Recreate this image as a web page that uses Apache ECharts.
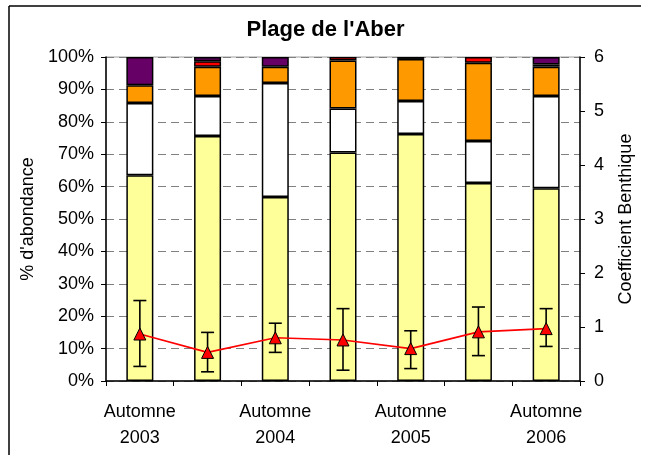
<!DOCTYPE html>
<html>
<head>
<meta charset="utf-8">
<script src="https://cdn.jsdelivr.net/npm/echarts@6/dist/echarts.min.js"></script>
<style>
  html, body { margin: 0; padding: 0; background: #fff; }
  #chart { width: 651px; height: 455px; }
</style>
</head>
<body>
<div id="chart"></div>
<script>
// categories (labels only every other one, as in the original)
var categories = ['Automne\n2003', '', 'Automne\n2004', '', 'Automne\n2005', '', 'Automne\n2006'];

// % abondance par groupe (empilé, bas -> haut)
var grpJaune  = [63.5, 75.6, 56.8, 70.5, 76.2, 61.1, 59.5];
var grpBlanc  = [22.3, 12.4, 35.2, 13.6, 10.2, 13.0, 28.5];
var grpOrange = [5.5, 9.0, 5.0, 14.8, 13.0, 24.1, 9.0];
var grpRouge  = [0, 1.7, 0, 1.1, 0, 1.8, 0];
var grpNoir   = [0, 0, 0, 0, 0.6, 0, 0.7];
var grpViolet = [8.7, 1.3, 3.0, 0, 0, 0, 2.3];

// coefficient benthique + barres d'erreur
var coefMoy  = [0.87, 0.53, 0.80, 0.76, 0.60, 0.91, 0.97];
var coefMin  = [0.27, 0.17, 0.53, 0.20, 0.23, 0.47, 0.64];
var coefMax  = [1.49, 0.90, 1.07, 1.34, 0.93, 1.37, 1.34];

var chart = echarts.init(document.getElementById('chart'));

function barSerie(name, data, color) {
  return {
    name: name,
    type: 'bar',
    stack: 'total',
    barWidth: 27,
    // pas de segment dessiné quand la part est nulle
    data: data.map(function (v) { return v === 0 ? '-' : v; }),
    itemStyle: { color: color, borderColor: '#000', borderWidth: 1.5 },
    emphasis: { disabled: true }
  };
}

var errData = coefMoy.map(function (v, i) { return [i, coefMin[i], coefMax[i]]; });

var option = {
  animation: false,
  textStyle: { fontFamily: 'Liberation Sans, Arial, sans-serif' },
  title: {
    text: "Plage de l'Aber",
    left: 'center',
    top: 14,
    textStyle: { fontSize: 22, fontWeight: 'bold', color: '#000' }
  },
  graphic: [
    { type: 'line', shape: { x1: 9, y1: 6, x2: 9, y2: 455 }, style: { stroke: '#000', lineWidth: 1.5 } },
    { type: 'line', shape: { x1: 9, y1: 6, x2: 641, y2: 6 }, style: { stroke: '#000', lineWidth: 1.5 } }
  ],
  grid: {
    left: 106,
    right: 71,
    top: 57,
    bottom: 74,
    show: true,
    borderColor: '#a0a0a0',
    borderWidth: 1
  },
  xAxis: {
    type: 'category',
    data: categories,
    axisLine: { lineStyle: { color: '#000', width: 1.5 } },
    axisTick: { show: true, length: 5, lineStyle: { color: '#000' } },
    axisLabel: {
      interval: 0,
      color: '#000',
      fontSize: 18,
      lineHeight: 26,
      margin: 18
    }
  },
  yAxis: [
    {
      type: 'value',
      min: 0,
      max: 100,
      interval: 10,
      name: "% d'abondance",
      nameLocation: 'middle',
      nameRotate: 90,
      nameGap: 62,
      nameTextStyle: { fontSize: 18, color: '#000' },
      axisLine: { show: true, lineStyle: { color: '#000', width: 1.5 } },
      axisTick: { show: true, length: 5, lineStyle: { color: '#000' } },
      axisLabel: { formatter: '{value}%', color: '#000', fontSize: 18, margin: 12 },
      splitLine: { show: true, lineStyle: { color: '#808080', type: [8, 5], width: 1 } }
    },
    {
      type: 'value',
      min: 0,
      max: 6,
      interval: 1,
      position: 'right',
      name: 'Coefficient Benthique',
      nameLocation: 'middle',
      nameRotate: 90,
      nameGap: 37,
      nameTextStyle: { fontSize: 18, color: '#000' },
      axisLine: { show: true, lineStyle: { color: '#000', width: 1.5 } },
      axisTick: { show: true, length: 5, lineStyle: { color: '#000' } },
      axisLabel: { color: '#000', fontSize: 18, margin: 14 },
      splitLine: { show: false }
    }
  ],
  series: [
    barSerie('jaune', grpJaune, '#FFFF99'),
    barSerie('blanc', grpBlanc, '#FFFFFF'),
    barSerie('orange', grpOrange, '#FF9900'),
    barSerie('rouge', grpRouge, '#FF0000'),
    barSerie('noir', grpNoir, '#000000'),
    barSerie('violet', grpViolet, '#660066'),
    {
      name: 'erreur',
      type: 'custom',
      yAxisIndex: 1,
      z: 3,
      data: errData,
      renderItem: function (params, api) {
        var lo = api.coord([api.value(0), api.value(1)]);
        var hi = api.coord([api.value(0), api.value(2)]);
        var w = 6.5;
        var st = { stroke: '#000', lineWidth: 1.6 };
        return {
          type: 'group',
          children: [
            { type: 'line', shape: { x1: lo[0], y1: lo[1], x2: hi[0], y2: hi[1] }, style: st },
            { type: 'line', shape: { x1: lo[0] - w, y1: lo[1], x2: lo[0] + w, y2: lo[1] }, style: st },
            { type: 'line', shape: { x1: hi[0] - w, y1: hi[1], x2: hi[0] + w, y2: hi[1] }, style: st }
          ]
        };
      }
    },
    {
      name: 'Coefficient',
      type: 'line',
      yAxisIndex: 1,
      z: 4,
      data: coefMoy,
      symbol: 'triangle',
      symbolSize: 12,
      lineStyle: { color: '#FF0000', width: 1.6 },
      itemStyle: { color: '#FF0000', borderColor: '#000', borderWidth: 1 }
    }
  ]
};

chart.setOption(option);
</script>
</body>
</html>
